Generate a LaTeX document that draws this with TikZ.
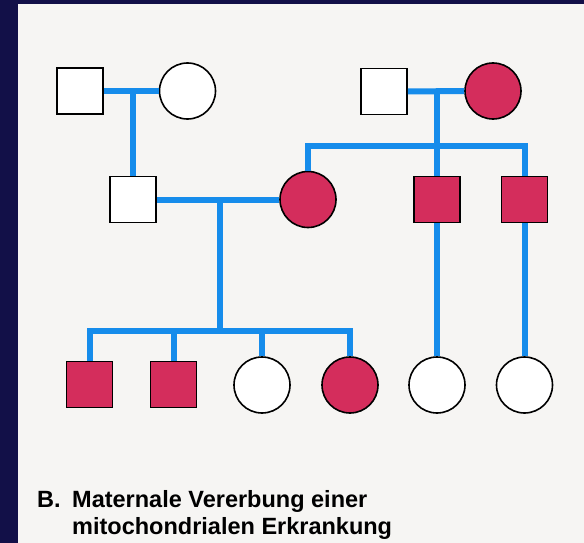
\documentclass[tikz,border=0pt]{standalone}
\usepackage{fontspec}
\setmainfont{Liberation Sans}
\definecolor{navy}{RGB}{18,16,72}
\definecolor{panel}{RGB}{246,245,243}
\definecolor{linkblue}{RGB}{22,140,235}
\definecolor{affected}{RGB}{212,45,92}
\tikzset{
  male/.style={draw=black, line width=1.6pt, fill=white, rectangle, minimum width=46pt, minimum height=46pt, inner sep=0pt},
  female/.style={draw=black, line width=1.6pt, fill=white, circle, minimum size=56pt, inner sep=0pt},
  ill/.style={fill=affected},
  link/.style={draw=linkblue, line width=6pt, line join=miter},
  caption/.style={anchor=base west, inner sep=0pt, font=\bfseries\fontsize{23.5}{27}\selectfont, text=black}
}
\begin{document}
\begin{tikzpicture}[x=1pt,y=-1pt]
\useasboundingbox (0,0) rectangle (584,543);
\fill[navy] (0,0) rectangle (584,543);
\fill[panel] (18,4) rectangle (584,543);
% generation I
\node[male] (I1) at (80,91) {};
\node[female] (I2) at (187.5,91) {};
\node[male] (I3) at (384,91.5) {};
\node[female, ill] (I4) at (493,91) {};
% generation II
\node[male] (II1) at (133,199.5) {};
\node[female, ill] (II2) at (308,199.5) {};
\node[male, ill] (II3) at (437,199.5) {};
\node[male, ill] (II4) at (524.5,199.5) {};
% generation III
\node[male, ill] (III1) at (89.5,384.5) {};
\node[male, ill] (III2) at (173.5,384.5) {};
\node[female] (III3) at (262,385) {};
\node[female, ill] (III4) at (350,385) {};
\node[female] (III5) at (437,385) {};
\node[female] (III6) at (524.5,385) {};
% helper coordinates
\coordinate (sibA) at (437,146);
\coordinate (desc) at (220,199.5);
\coordinate (sibB) at (220,331);
% connectors
\draw[link] (I1.east) -- (I2.west);
\draw[link] (II1.north |- I1.east) -- (II1.north);
\draw[link] (I3.east) -- (I4.west);
\draw[link] (II3.north |- I3.east) -- (II3.north);
\draw[link] (II2.north) |- (sibA) -| (II4.north);
\draw[link] (II1.east) -- (II2.west);
\draw[link] (desc) -- (sibB);
\draw[link] (III1.north) |- (sibB) -| (III4.north);
\draw[link] (III2.north) -- (III2.north |- sibB);
\draw[link] (III3.north) -- (III3.north |- sibB);
\draw[link] (II3.south) -- (III5.north);
\draw[link] (II4.south) -- (III6.north);
% caption
\node[caption] (lab) at (37,507) {B.};
\node[caption] (cap1) at (72,507) {Maternale Vererbung einer};
\node[caption] (cap2) at (72,534) {mitochondrialen Erkrankung};
\end{tikzpicture}
\end{document}
